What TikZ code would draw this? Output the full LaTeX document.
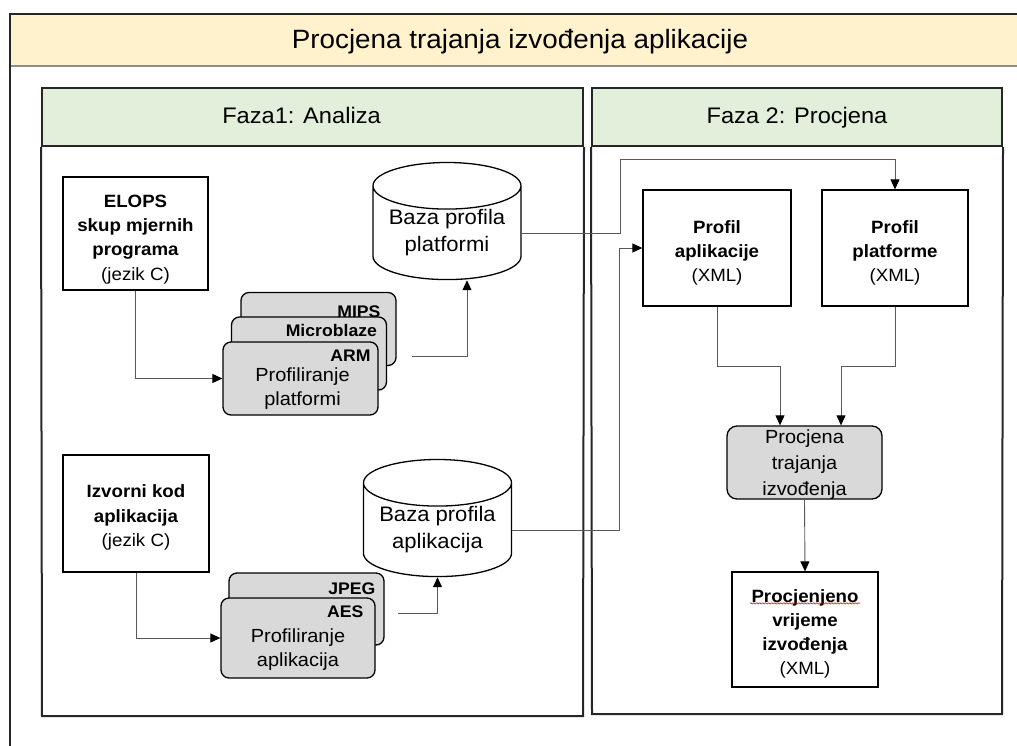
\documentclass[tikz,border=0pt]{standalone}
\usepackage{fontspec}
\setmainfont{Liberation Sans}[FakeStretch=1.05]
\usetikzlibrary{shapes.geometric,arrows.meta,decorations.pathmorphing}

\definecolor{titlefill}{HTML}{FFF2CC}
\definecolor{fazafill}{HTML}{E2EFDA}
\definecolor{cardfill}{HTML}{D9D9D9}
\definecolor{linegray}{HTML}{595959}

\tikzset{
  panel/.style={draw=black!85, line width=2pt},
  header/.style={panel, fill=fazafill, text height=17pt, text depth=5pt, font=\fontsize{22.5}{26}\selectfont},
  infobox/.style={draw, line width=1.3pt, inner sep=0pt},
  boxtext/.style={align=center, inner sep=0pt, font=\fontsize{17.8}{24.2}\selectfont},
  card/.style={draw, fill=cardfill, rounded corners=8pt, line width=1.3pt, minimum width=155pt, minimum height=73pt, inner sep=0pt},
  cardlabel/.style={anchor=base east, inner sep=0pt, font=\fontsize{16.8}{19}\selectfont\bfseries},
  cardtext/.style={align=center, inner sep=0pt, font=\fontsize{19}{24.5}\selectfont},
  baza/.style={cylinder, shape border rotate=90, draw, line width=1.3pt, aspect=0.4, minimum width=148pt, minimum height=99pt, align=center, inner sep=0pt, font=\fontsize{21}{27}\selectfont},
  conn/.style={draw=linegray, line width=0.9pt, -{Triangle[length=10pt,width=9pt,color=black]}},
  squiggle/.style={draw=red!80!black, line width=0.5pt, decorate, decoration={snake, amplitude=0.7pt, segment length=3pt}},
}

\begin{document}
\begin{tikzpicture}[x=1pt,y=-1pt]
  \useasboundingbox (0,0) rectangle (1017,745);

  % okvir i naslov
  \fill[titlefill] (9.5,14) rectangle (1030,66);
  \draw[black!45, line width=1.2pt] (9.5,66) -- (1030,66);
  \draw[black!85, line width=2pt] (9.5,760) -- (9.5,14) -- (1030,14);
  \node[text height=20pt, text depth=6pt, font=\fontsize{26.5}{30}\selectfont] (naslov) at (520,41) {Procjena trajanja izvođenja aplikacije};

  % faze
  \node[header, minimum width=541pt, minimum height=58pt] (faza1) at (312.5,117) {Faza1: Analiza\hspace*{22pt}};
  \draw[panel] (faza1.south west) -- (42,716) -- (583,716) -- (faza1.south east);
  \node[header, minimum width=410pt, minimum height=58pt] (faza2) at (797,117) {Faza 2: Procjena};
  \draw[panel] (faza2.south west) -- (592,714) -- (1002,714) -- (faza2.south east);

  % analiza platformi
  \node[infobox, minimum width=145pt, minimum height=113pt] (elops) at (135.5,233.5) {};
  \node[boxtext] (elopst) at ([yshift=-6pt]elops.center)
    {\textbf{ELOPS}\\\textbf{skup mjernih}\\\textbf{programa}\\(jezik C)};
  \node[baza] (bpp) at (447,233) {Baza profila\\platformi};
  \node[card] (mips) at (318.5,329) {};
  \node[cardlabel] (mipst) at ([xshift=-16pt,yshift=-25.5pt]mips.north east) {MIPS};
  \node[card] (mblz) at (309,353.5) {};
  \node[cardlabel] (mblzt) at ([xshift=-10pt,yshift=-20.5pt]mblz.north east) {Microblaze};
  \node[card] (arm) at (300.5,378.5) {};
  \node[cardlabel] (armt) at ([xshift=-8pt,yshift=-20.5pt]arm.north east) {ARM};
  \node[cardtext] (armp) at ([xshift=2pt,yshift=-10pt]arm.center) {Profiliranje\\platformi};
  \coordinate (pfout) at (412,356);

  % analiza aplikacija
  \node[infobox, minimum width=146pt, minimum height=117pt] (izv) at (136,513.5) {};
  \node[boxtext] (izvt) at ([yshift=-4pt]izv.center)
    {\textbf{Izvorni kod}\\\textbf{aplikacija}\\(jezik C)};
  \node[baza] (bap) at (437.5,530) {Baza profila\\aplikacija};
  \node[card, minimum height=72pt] (jpeg) at (306.5,609) {};
  \node[cardlabel] (jpegt) at ([xshift=-9pt,yshift=-22.5pt]jpeg.north east) {JPEG};
  \node[card, minimum width=154pt, minimum height=80pt] (aes) at (298,638) {};
  \node[cardlabel] (aest) at ([xshift=-12pt,yshift=-20.5pt]aes.north east) {AES};
  \node[cardtext] (aesp) at ([yshift=-11.5pt]aes.center) {Profiliranje\\aplikacija};
  \coordinate (apout) at (398,613);

  % procjena
  \node[infobox, minimum width=148pt, minimum height=116pt] (papp) at (717,248) {};
  \node[boxtext] (pappt) at ([yshift=-5pt]papp.center) {\textbf{Profil}\\\textbf{aplikacije}\\(XML)};
  \node[infobox, minimum width=146pt, minimum height=116pt] (pplat) at (895,248) {};
  \node[boxtext] (pplatt) at ([yshift=-5pt]pplat.center) {\textbf{Profil}\\\textbf{platforme}\\(XML)};
  \node[infobox, fill=cardfill, rounded corners=10pt, minimum width=155pt, minimum height=73pt] (proc) at (804.5,462.5) {};
  \node[boxtext, font=\fontsize{19}{26}\selectfont] (proct) at ([yshift=-2pt]proc.center) {Procjena\\trajanja\\izvođenja};
  \node[infobox, minimum width=146pt, minimum height=115pt] (procj) at (805,629.5) {};
  \node[boxtext] (procjt) at ([yshift=-4.5pt]procj.center)
    {\textbf{Procjenjeno}\\\textbf{vrijeme}\\\textbf{izvođenja}\\(XML)};
  \draw[squiggle] ([xshift=-55pt,yshift=-32pt]procj.north) -- ([xshift=55pt,yshift=-32pt]procj.north);

  % veze
  \draw[conn] (elops.south) |- (arm.west);
  \draw[conn] (pfout) -| ([xshift=20pt]bpp.south);
  \draw[conn] (izv.south) |- (aes.west);
  \draw[conn] (apout) -| (bap.south);
  \draw[conn] (bpp.east) -| ([xshift=-22pt,yshift=30pt]papp.north west) -| (pplat.north);
  \draw[conn] (bap.east) -| ([xshift=-23pt]papp.west) -- (papp.west);
  \draw[conn] (papp.south) -- ++(0,60) -| ([xshift=-24.5pt]proc.north);
  \draw[conn] (pplat.south) -- ++(0,60) -| ([xshift=36.5pt]proc.north);
  \draw[conn] (proc.south) -- (procj.north);
\end{tikzpicture}
\end{document}
